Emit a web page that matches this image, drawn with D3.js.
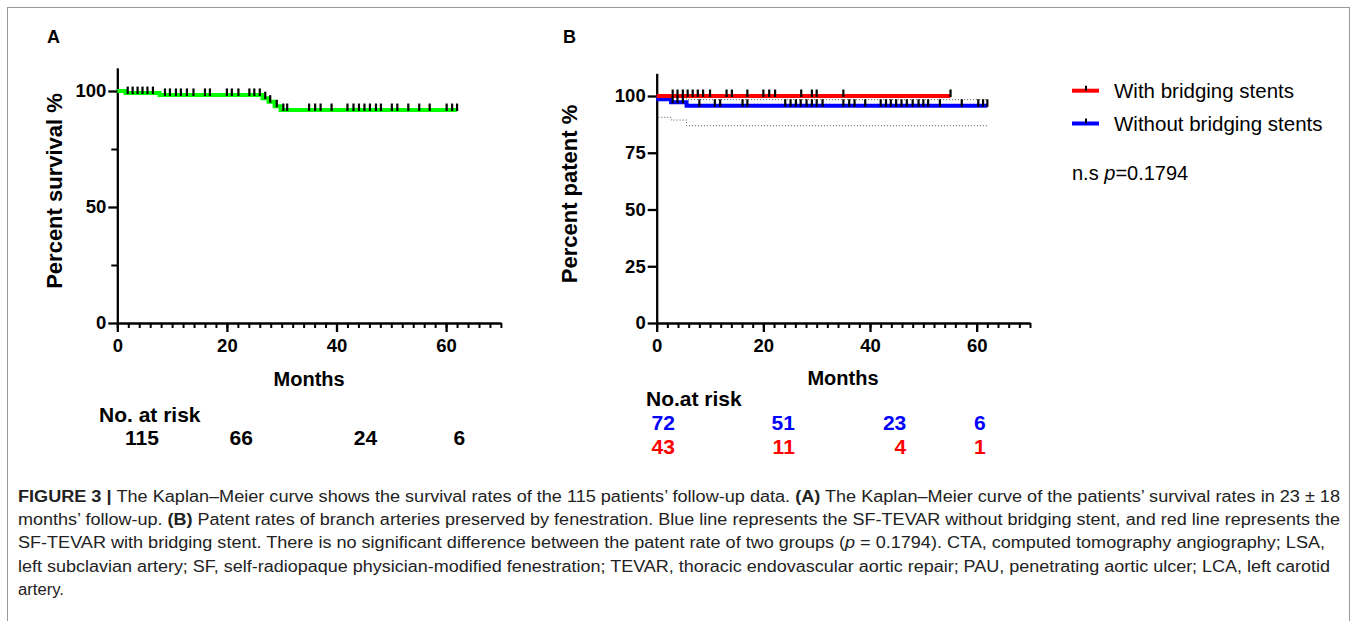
<!DOCTYPE html>
<html>
<head>
<meta charset="utf-8">
<script src="https://cdn.jsdelivr.net/npm/d3@7"></script>
<style>
  body { margin: 0; background: #fff; }
  svg text { font-family: "Liberation Sans", Arial, sans-serif; }
</style>
</head>
<body>
<svg id="fig" width="1357" height="621"></svg>
<script>
// ---- data ----
// panel A: overall survival
const survTimes = [0, 1.5, 7.7, 26.5, 27.6, 28.7, 29.8];
const survVals = [100, 99.1, 98.3, 96.9, 95.4, 93.4, 91.8];
const survEnd = 62;
const survCensor = [1.9, 2.8, 3.7, 4.6, 5.5, 6.5, 8.7, 9.6, 10.7, 11.6, 12.7, 13.9, 16.0, 16.9,
  20.0, 20.9, 22.1, 24.1, 25.0, 26.0, 27.0, 27.9, 29.1, 30.3, 31.0, 35.0, 36.1, 37.1, 39.1,
  42.0, 43.1, 44.1, 45.1, 46.1, 47.2, 48.1, 50.1, 51.1, 53.1, 55.1, 57.0, 60.1, 61.1, 62.0];
const riskA = [115, 66, 24, 6];

// panel B: patency with / without bridging stents
const withTimes = [0];
const withVals = [100];
const withEnd = 55.1;
const withCensor = [3.0, 3.9, 4.9, 5.8, 6.75, 7.7, 8.7, 10.0, 13.1, 14.1, 17.0, 20.0, 21.1, 22.2,
  27.1, 29.1, 30.0, 35.0, 55.1];
const withoutTimes = [0, 0.3, 2.7, 5.6];
const withoutVals = [100, 98.6, 97.2, 95.7];
const withoutEnd = 62;
const withoutCensor = [3.0, 3.9, 4.9, 8.0, 10.9, 11.9, 16.1, 17.0, 24.1, 25.1, 26.1, 27.0, 28.1,
  29.1, 30.0, 31.1, 35.0, 36.1, 37.1, 39.1, 42.0, 43.0, 43.9, 44.9, 45.9, 46.9, 48.0, 49.1,
  50.0, 50.9, 53.1, 57.2, 60.3, 61.2, 62.0];
const ciTimes = [0.3, 2.7, 5.6];
const ciLower = [90.6, 89.4, 86.9];
const ciUpper = [99.8, 99.5, 98.4];
const ciEnd = 62;
const riskWithout = [72, 51, 23, 6];
const riskWith = [43, 11, 4, 1];

const xTicksMajor = [0, 20, 40, 60];
const yTicksA = [0, 50, 100];
const yTicksB = [0, 25, 50, 75, 100];

const captionLines = [
  [["FIGURE 3 | ", true], ["The Kaplan–Meier curve shows the survival rates of the 115 patients’ follow-up data. ", false], ["(A)", true], [" The Kaplan–Meier curve of the patients’ survival rates in 23 ± 18", false]],
  [["months’ follow-up. ", false], ["(B)", true], [" Patent rates of branch arteries preserved by fenestration. Blue line represents the SF-TEVAR without bridging stent, and red line represents the", false]],
  [["SF-TEVAR with bridging stent. There is no significant difference between the patent rate of two groups (", false], ["p", "i"], [" = 0.1794). CTA, computed tomography angiography; LSA,", false]],
  [["left subclavian artery; SF, self-radiopaque physician-modified fenestration; TEVAR, thoracic endovascular aortic repair; PAU, penetrating aortic ulcer; LCA, left carotid", false]],
  [["artery.", false]]
];

// ---- drawing ----
const svg = d3.select("#fig");

svg.append("rect")
  .attr("x", 7.5).attr("y", 7.5)
  .attr("width", 1342).attr("height", 650)
  .attr("fill", "none").attr("stroke", "#9a9a9a").attr("stroke-width", 1);

function stepAt(times, vals, t) {
  const i = Math.max(0, d3.bisectRight(times, t) - 1);
  return vals[i];
}

function stepPoints(times, vals, end) {
  const pts = times.map((t, i) => [t, vals[i]]);
  pts.push([end, vals[vals.length - 1]]);
  return pts;
}

function drawAxes(x, y, yTicks, yMinor) {
  const bottom = y(0);
  // minor x ticks every 2 months
  svg.append("g")
    .attr("transform", `translate(0,${bottom})`)
    .call(d3.axisBottom(x).tickValues(d3.range(0, 71, 2)).tickSize(5).tickFormat(""))
    .call(g => g.select(".domain").remove())
    .call(g => g.selectAll("line").attr("stroke-width", 2));
  const xa = svg.append("g")
    .attr("transform", `translate(0,${bottom})`)
    .call(d3.axisBottom(x).tickValues(xTicksMajor).tickSize(9).tickSizeOuter(0).tickPadding(7));
  xa.select(".domain").attr("stroke-width", 2.3);
  xa.selectAll("line").attr("stroke-width", 2.3);
  xa.selectAll("text").attr("font-size", 18.5).attr("font-weight", "bold");

  if (yMinor.length) {
    svg.append("g")
      .attr("transform", `translate(${x(0)},0)`)
      .call(d3.axisLeft(y).tickValues(yMinor).tickSize(6).tickFormat(""))
      .call(g => g.select(".domain").remove())
      .call(g => g.selectAll("line").attr("stroke-width", 2));
  }
  const ya = svg.append("g")
    .attr("transform", `translate(${x(0)},0)`)
    .call(d3.axisLeft(y).tickValues(yTicks).tickSize(9).tickSizeOuter(0).tickPadding(2));
  ya.select(".domain").attr("stroke-width", 2.3);
  ya.selectAll("line").attr("stroke-width", 2.3);
  ya.selectAll("text").attr("font-size", 18.5).attr("font-weight", "bold");
}

function drawCurve(x, y, times, vals, end, color, width, dash) {
  const line = d3.line()
    .x(d => x(d[0])).y(d => y(d[1]))
    .curve(d3.curveStepAfter);
  svg.append("path")
    .datum(stepPoints(times, vals, end))
    .attr("fill", "none")
    .attr("stroke", color)
    .attr("stroke-width", width)
    .attr("stroke-dasharray", dash || null)
    .attr("d", line);
}

function drawCensor(x, y, times, vals, censor) {
  svg.append("g").selectAll("line")
    .data(censor)
    .join("line")
    .attr("x1", d => x(d)).attr("x2", d => x(d))
    .attr("y1", d => y(stepAt(times, vals, d)) - 6.5)
    .attr("y2", d => y(stepAt(times, vals, d)) + 1)
    .attr("stroke", "#000")
    .attr("stroke-width", 2.2);
}

function label(txt, x, y, size, opts = {}) {
  const t = svg.append("text")
    .attr("x", x).attr("y", y)
    .attr("font-size", size)
    .attr("font-weight", opts.weight || "bold")
    .attr("fill", opts.fill || "#000")
    .attr("text-anchor", opts.anchor || "start")
    .attr("dominant-baseline", "central")
    .text(txt);
  if (opts.rotate) t.attr("transform", `rotate(-90,${x},${y})`);
  return t;
}

// ---- panel A ----
const xA = d3.scaleLinear().domain([0, 70]).range([117.3, 500.9]);
const yA = d3.scaleLinear().domain([0, 110]).range([323, 67.8]);

label("A", 47, 37, 18);
drawAxes(xA, yA, yTicksA, [25, 75]);
drawCurve(xA, yA, survTimes, survVals, survEnd, "#00ff00", 4);
drawCensor(xA, yA, survTimes, survVals, survCensor);
label("Percent survival %", 54, 191, 22, { anchor: "middle", rotate: true });
label("Months", xA(35), 379, 20, { anchor: "middle" });
label("No. at risk", 99, 414, 21);
const riskPosA = [4.5, 22.6, 45.3, 62.4];
riskA.forEach((n, i) => label(String(n), xA(riskPosA[i]), 437, 21, { anchor: "middle" }));

// ---- panel B ----
const xB = d3.scaleLinear().domain([0, 70]).range([656.7, 1030]);
const yB = d3.scaleLinear().domain([0, 110]).range([323, 73.3]);

label("B", 563, 37, 18);
drawAxes(xB, yB, yTicksB, []);
drawCurve(xB, yB, ciTimes, ciLower, ciEnd, "#555", 1, "1,2");
drawCurve(xB, yB, ciTimes, ciUpper, ciEnd, "#555", 1, "1,2");
drawCurve(xB, yB, withoutTimes, withoutVals, withoutEnd, "#0000ff", 4);
drawCurve(xB, yB, withTimes, withVals, withEnd, "#ff0000", 4);
drawCensor(xB, yB, withoutTimes, withoutVals, withoutCensor);
drawCensor(xB, yB, withTimes, withVals, withCensor);
label("Percent patent %", 569, 194, 22, { anchor: "middle", rotate: true });
label("Months", 843, 378, 20, { anchor: "middle" });
label("No.at risk", 646, 398, 21);
const riskPosB = [3.4, 25.9, 46.8, 61.7];
riskWithout.forEach((n, i) => label(String(n), xB(riskPosB[i]), 422, 21, { anchor: "end", fill: "#0000ff" }));
riskWith.forEach((n, i) => label(String(n), xB(riskPosB[i]), 446, 21, { anchor: "end", fill: "#ff0000" }));

// legend
const legend = [["With bridging stents", "#ff0000", 90.7], ["Without bridging stents", "#0000ff", 123.5]];
legend.forEach(([name, color, ly]) => {
  svg.append("line").attr("x1", 1072).attr("x2", 1099).attr("y1", ly).attr("y2", ly)
    .attr("stroke", color).attr("stroke-width", 4);
  svg.append("line").attr("x1", 1086).attr("x2", 1086).attr("y1", ly - 5).attr("y2", ly)
    .attr("stroke", "#000").attr("stroke-width", 2);
  label(name, 1114, ly, 20.5, { weight: "normal" });
});
const pText = label("n.s ", 1072, 173, 20, { weight: "normal" });
pText.append("tspan").attr("font-style", "italic").text("p");
pText.append("tspan").text("=0.1794");

// ---- caption ----
const capWidths = [1322, 1322, 1307, 1312, null];
captionLines.forEach((parts, i) => {
  const t = svg.append("text")
    .attr("x", 18).attr("y", 502 + i * 23.2)
    .attr("font-size", 16)
    .attr("fill", "#222")
    .style("font-family", "'Liberation Sans Narrow', 'Liberation Sans', Arial, sans-serif");
  if (capWidths[i]) t.attr("textLength", capWidths[i]).attr("lengthAdjust", "spacingAndGlyphs");
  else t.attr("textLength", 46).attr("lengthAdjust", "spacingAndGlyphs");
  parts.forEach(([s, style]) => {
    t.append("tspan")
      .attr("font-weight", style === true ? "bold" : null)
      .attr("font-style", style === "i" ? "italic" : null)
      .text(s);
  });
});
</script>
</body>
</html>
